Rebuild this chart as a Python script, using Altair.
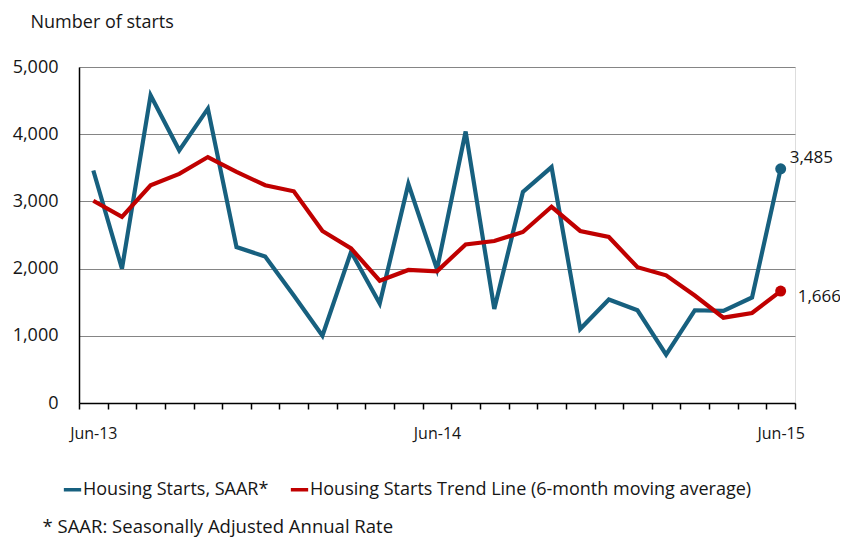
import altair as alt
import pandas as pd

months = ["Jun-13", "Jul-13", "Aug-13", "Sep-13", "Oct-13", "Nov-13", "Dec-13",
          "Jan-14", "Feb-14", "Mar-14", "Apr-14", "May-14", "Jun-14", "Jul-14",
          "Aug-14", "Sep-14", "Oct-14", "Nov-14", "Dec-14", "Jan-15", "Feb-15",
          "Mar-15", "Apr-15", "May-15", "Jun-15"]
starts = [3460, 2000, 4580, 3760, 4380, 2320, 2180, 1600, 1000, 2250, 1480, 3260,
          1990, 4040, 1400, 3140, 3510, 1100, 1540, 1380, 720, 1380, 1370, 1570, 3485]
trend = [3010, 2770, 3240, 3410, 3660, 3440, 3240, 3150, 2560, 2300, 1820, 1980,
         1960, 2360, 2410, 2545, 2920, 2560, 2470, 2020, 1900, 1600, 1270, 1340, 1666]
series_names = ["Housing Starts, SAAR*", "Housing Starts Trend Line (6-month moving average)"]
colors = ["#17607f", "#c00000"]
y_ticks = [0, 1000, 2000, 3000, 4000, 5000]
footnote = "* SAAR: Seasonally Adjusted Annual Rate"
y_title = "Number of starts"

rows = []
for i, m in enumerate(months):
    rows.append({"idx": i, "month": m, "value": starts[i], "series": series_names[0]})
    rows.append({"idx": i, "month": m, "value": trend[i], "series": series_names[1]})
df = pd.DataFrame(rows)
last = df[df["idx"] == len(months) - 1].copy()
last["label"] = last["value"].map(lambda v: f"{v:,}")

W, H = 716, 336
n = len(months)
half = W / n / 2
FONT = "Open Sans"
TXT = "#161616"

bounds = [i - 0.5 for i in range(n + 1)]
parts = []
for i, m in enumerate(months):
    if m.startswith("Jun"):
        parts.append(f"datum.value == {i - 0.5} ? '{m}' : ")
label_expr = "".join(parts) + "''"

x = alt.X("idx:Q",
          scale=alt.Scale(domain=[-0.5, n - 0.5], nice=False, zero=False),
          axis=alt.Axis(values=bounds, tickCount=len(bounds) + 5,
                        labelExpr=label_expr, labelOffset=half,
                        labelOverlap=False, labelFlush=False, grid=False,
                        tickSize=6, tickColor="#000",
                        tickWidth=1.5, domainColor="#000", domainWidth=1.5,
                        labelPadding=16, labelFontSize=16, labelColor=TXT,
                        labelFont=FONT, title=footnote, titleFont=FONT,
                        titleFontSize=18.5, titleFontWeight="normal", titleColor=TXT,
                        titleAnchor="start", titleAlign="left", titleX=-37,
                        titleY=129, titleBaseline="alphabetic"))
y = alt.Y("value:Q",
          scale=alt.Scale(domain=[0, 5000], nice=False),
          axis=alt.Axis(values=y_ticks, tickCount=len(y_ticks), format=",d",
                        ticks=False, grid=True,
                        gridColor="#858585", gridWidth=1.2, domainColor="#000",
                        domainWidth=1.5, labelPadding=21, labelFontSize=18,
                        labelColor=TXT, labelFont=FONT, labelOverlap=False,
                        title=y_title,
                        titleFont=FONT, titleFontSize=18, titleFontWeight="normal",
                        titleColor=TXT, titleAngle=0, titleAlign="left",
                        titleAnchor="start", titleX=-49, titleY=-40,
                        titleBaseline="alphabetic"))
cscale = alt.Scale(domain=series_names, range=colors)
color = alt.Color("series:N", scale=cscale,
                  legend=alt.Legend(orient="none", legendX=-17, legendY=412,
                                    direction="horizontal", title=None,
                                    symbolType="stroke", symbolStrokeWidth=3.5,
                                    symbolSize=300, labelFont=FONT, labelFontSize=18,
                                    labelColor=TXT, labelOffset=0,
                                    columnPadding=14, labelLimit=700))

base = alt.Chart(df)
lines = base.mark_line(strokeWidth=4.2, strokeJoin="miter").encode(x=x, y=y, color=color)
pts = alt.Chart(last).mark_point(filled=True, size=120, opacity=1).encode(
    x=x, y=y, color=color)
lab1 = alt.Chart(last[last["series"] == series_names[0]]).mark_text(
    align="left", baseline="alphabetic", dx=9, dy=-6, font=FONT, fontSize=17,
    color=TXT).encode(x=x, y=y, text="label:N")
lab2 = alt.Chart(last[last["series"] == series_names[1]]).mark_text(
    align="left", baseline="middle", dx=17, dy=6, font=FONT, fontSize=17,
    color=TXT).encode(x=x, y=y, text="label:N")

chart = alt.layer(lines, pts, lab1, lab2).properties(
    width=W, height=H,
    autosize=alt.AutoSizeParams(type="none"),
    padding={"left": 71, "top": 59, "right": 45, "bottom": 137},
).configure_view(stroke=None).configure(background="white")

chart.save("out.html", embed_options={"renderer": "svg", "actions": False})
